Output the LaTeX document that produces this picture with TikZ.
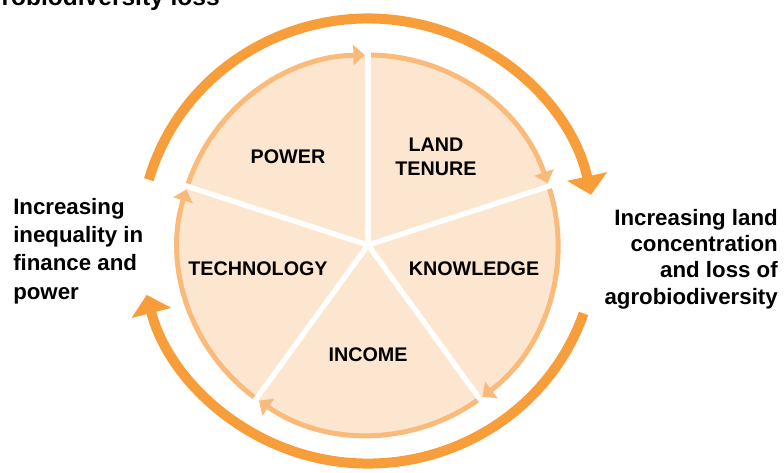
\documentclass[tikz,border=0pt]{standalone}
\usepackage{fontspec}
\setmainfont{Liberation Sans}
\usepackage{xcolor}
\usetikzlibrary{arrows.meta}

\definecolor{pieFill}{RGB}{253,230,208}
\definecolor{rimOrange}{RGB}{250,186,122}
\definecolor{loopOrange}{RGB}{247,158,58}

\begin{document}
\begin{tikzpicture}[x=0.75pt,y=0.75pt,yscale=-1,xscale=1,
  rim/.style={draw=rimOrange, line width=3.75pt, -{Triangle[width=15pt,length=8.5pt]}},
  loop/.style={draw=loopOrange, line width=7.5pt, -{Triangle[width=30pt,length=14pt]}},
  spoke/.style={draw=white, line width=4pt},
  sector/.style={font=\fontsize{14.8}{18}\selectfont\bfseries, align=center, inner sep=0pt},
  side/.style={font=\fontsize{16.7}{21.2}\selectfont\bfseries, inner sep=0pt}]
\useasboundingbox (0,0) rectangle (784,472);

\coordinate (ctr) at (368,245);
\coordinate (octr) at (368,241);

%Shape: Circle [pie]
\fill[pieFill] (ctr) circle [radius=190];

%Shape: Arc [rim arrows, one per sector]
\foreach \a in {-90,-18,54,126,198}
  \draw[rim] (ctr) ++(\a:190) arc [start angle=\a, end angle=\a+71, radius=190];

%Shape: Line [spokes]
\foreach \a in {-90,-18,54,126,198}
  \draw[spoke] (ctr) -- ++(\a:193);

%Shape: Arc [outer loop, top]
\draw[loop] (octr) ++(-164:228 and 222.5) arc [start angle=-164, end angle=-12, x radius=228, y radius=222.5];
%Shape: Arc [outer loop, bottom]
\draw[loop] (octr) ++(19:228 and 222.5) arc [start angle=19, end angle=166, x radius=228, y radius=222.5];

% Text Node
\node[sector] (power) at (288,157) {POWER};
% Text Node
\node[sector] (tenure) at (436,157) {LAND\\TENURE};
% Text Node
\node[sector] (knowledge) at (474,268.5) {KNOWLEDGE};
% Text Node
\node[sector] (income) at (368,355) {INCOME};
% Text Node
\node[sector] (technology) at (258,268.5) {TECHNOLOGY};

% Text Node
\node[side, anchor=north west, align=left] (inequality) at (13,198) {Increasing\\inequality in\\finance and\\power};
% Text Node
\node[side, anchor=north east, align=right, font=\fontsize{16.7}{19.7}\selectfont\bfseries] (landconc) at (778,209) {Increasing land\\concentration\\and loss of\\agrobiodiversity};
% Text Node
\node[side, anchor=base east, font=\fontsize{18.4}{22}\selectfont\bfseries] (agroloss) at (220,5) {agrobiodiversity loss};

\end{tikzpicture}
\end{document}
